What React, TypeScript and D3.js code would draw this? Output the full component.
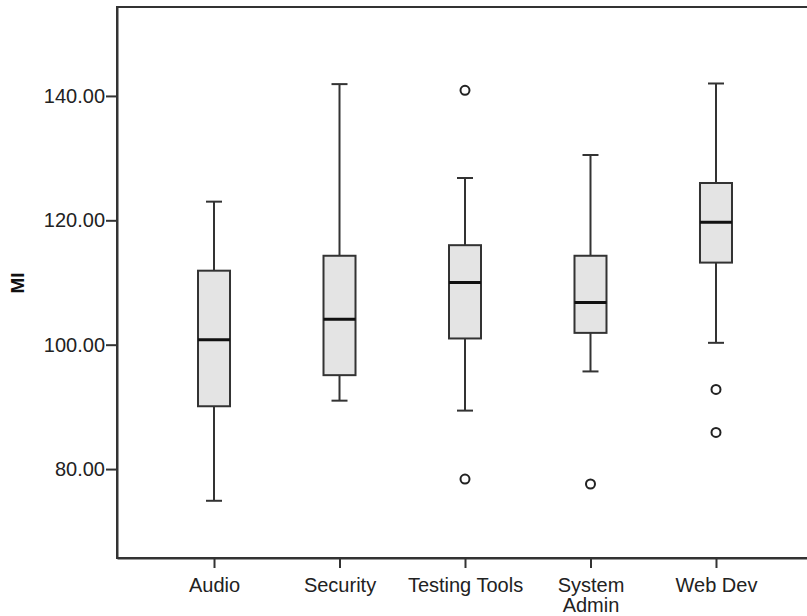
import React from "react";
import * as d3 from "d3";

const categories = ["Audio", "Security", "Testing Tools", "System\nAdmin", "Web Dev"];
const whiskerLow = [74.9, 91.0, 89.4, 95.7, 100.3];
const q1 = [90.1, 95.1, 101.0, 101.9, 113.2];
const medians = [100.8, 104.1, 110.0, 106.8, 119.7];
const q3 = [111.9, 114.3, 116.0, 114.3, 126.0];
const whiskerHigh = [123.0, 141.9, 126.8, 130.5, 142.0];
const outliers = [[], [], [140.9, 78.4], [77.6], [92.8, 85.9]];
const yTicks = [80, 100, 120, 140];

const W = 807;
const H = 616;
const left = 117;
const right = 813;
const top = 7;
const bottom = 558;
const boxWidth = 32;

export default function App() {
  const svgRef = React.useRef<SVGSVGElement>(null);

  React.useEffect(() => {
    const svg = d3.select(svgRef.current);
    svg.selectAll("*").remove();

    const x = d3.scalePoint<string>().domain(categories).range([left, right]).padding(0.773);
    const y = d3.scaleLinear().domain([65.7, 154.3]).range([bottom, top]);

    const rows = categories.map((c, i) => ({
      c,
      lo: whiskerLow[i],
      q1: q1[i],
      med: medians[i],
      q3: q3[i],
      hi: whiskerHigh[i],
      out: outliers[i],
    }));

    // frame
    svg
      .append("rect")
      .attr("x", left)
      .attr("y", top)
      .attr("width", right - left)
      .attr("height", bottom - top)
      .attr("fill", "none")
      .attr("stroke", "#333")
      .attr("stroke-width", 2);

    const g = svg.append("g");
    const box = g.selectAll("g.box").data(rows).join("g").attr("class", "box")
      .attr("transform", d => `translate(${x(d.c)},0)`);

    // whiskers
    box.append("line").attr("x1", 0).attr("x2", 0)
      .attr("y1", d => y(d.hi)).attr("y2", d => y(d.q3))
      .attr("stroke", "#333").attr("stroke-width", 2);
    box.append("line").attr("x1", 0).attr("x2", 0)
      .attr("y1", d => y(d.q1)).attr("y2", d => y(d.lo))
      .attr("stroke", "#333").attr("stroke-width", 2);
    box.append("line").attr("x1", -boxWidth / 4).attr("x2", boxWidth / 4)
      .attr("y1", d => y(d.hi)).attr("y2", d => y(d.hi))
      .attr("stroke", "#333").attr("stroke-width", 2);
    box.append("line").attr("x1", -boxWidth / 4).attr("x2", boxWidth / 4)
      .attr("y1", d => y(d.lo)).attr("y2", d => y(d.lo))
      .attr("stroke", "#333").attr("stroke-width", 2);

    // box
    box.append("rect")
      .attr("x", -boxWidth / 2)
      .attr("width", boxWidth)
      .attr("y", d => y(d.q3))
      .attr("height", d => y(d.q1) - y(d.q3))
      .attr("fill", "#e4e4e4")
      .attr("stroke", "#333")
      .attr("stroke-width", 2);

    // median
    box.append("line").attr("x1", -boxWidth / 2).attr("x2", boxWidth / 2)
      .attr("y1", d => y(d.med)).attr("y2", d => y(d.med))
      .attr("stroke", "#111").attr("stroke-width", 3);

    // outliers
    box.selectAll("circle").data(d => d.out).join("circle")
      .attr("cx", 0)
      .attr("cy", d => y(d))
      .attr("r", 4.5)
      .attr("fill", "#fff")
      .attr("stroke", "#222")
      .attr("stroke-width", 2);

    // y axis
    const yAxis = d3.axisLeft(y).tickValues(yTicks).tickFormat(d3.format(".2f")).tickSize(11).tickSizeOuter(0).tickPadding(1);
    const ya = svg.append("g").attr("transform", `translate(${left},0)`).call(yAxis);
    ya.select(".domain").attr("stroke", "#333").attr("stroke-width", 2);
    ya.selectAll(".tick line").attr("stroke", "#333").attr("stroke-width", 2);
    ya.selectAll(".tick text")
      .attr("font-family", "'Liberation Sans', Arial, sans-serif")
      .attr("font-size", 20)
      .attr("fill", "#222");

    // x axis
    const xAxis = d3.axisBottom(x).tickSize(10).tickSizeOuter(0).tickFormat(() => "");
    const xa = svg.append("g").attr("transform", `translate(0,${bottom})`).call(xAxis);
    xa.select(".domain").attr("stroke", "#333").attr("stroke-width", 2);
    xa.selectAll(".tick line").attr("stroke", "#333").attr("stroke-width", 2);
    xa.selectAll<SVGGElement, string>(".tick").each(function (d) {
      const t = d3.select(this).select("text")
        .attr("y", 33.5)
        .attr("dy", null)
        .attr("font-family", "'Liberation Sans', Arial, sans-serif")
        .attr("font-size", 20)
        .attr("fill", "#222");
      d.split("\n").forEach((line, i) => {
        t.append("tspan").attr("x", 0).attr("dy", i === 0 ? 0 : 20).text(line);
      });
    });

    // y title
    svg.append("text")
      .attr("transform", `translate(24,283) rotate(-90)`)
      .attr("text-anchor", "middle")
      .attr("font-family", "'Liberation Sans', Arial, sans-serif")
      .attr("font-weight", "bold")
      .attr("font-size", 19)
      .attr("fill", "#111")
      .text("MI");
  }, []);

  return (
    <svg
      ref={svgRef}
      width={W}
      height={H}
      style={{ position: "absolute", left: 0, top: 0, background: "#fff", overflow: "hidden" }}
    />
  );
}
